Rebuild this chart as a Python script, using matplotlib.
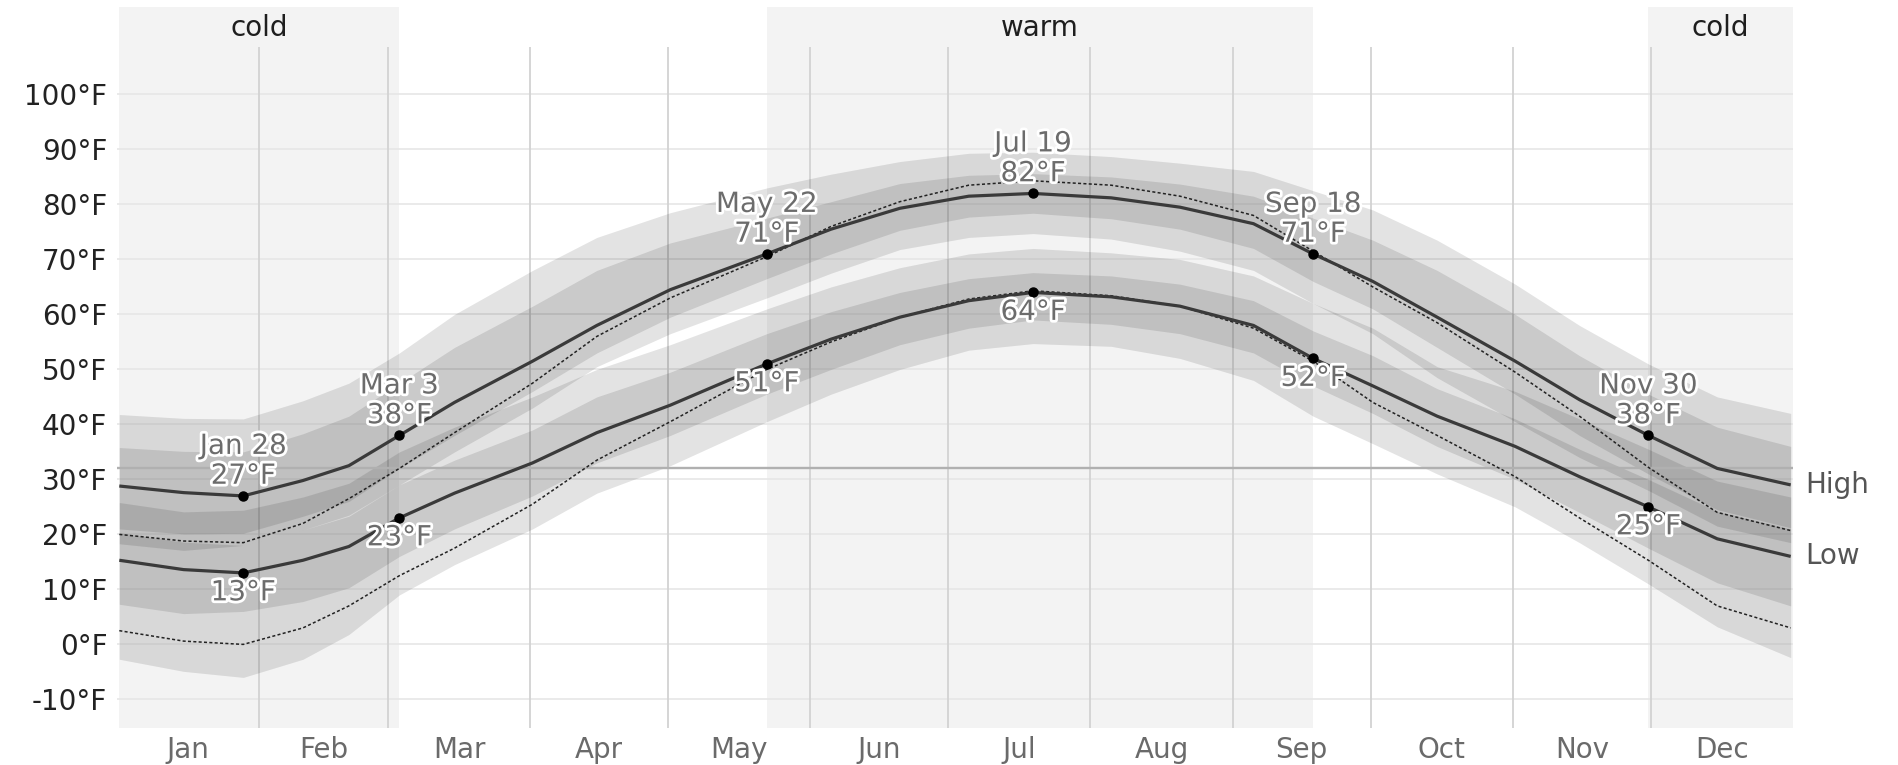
import numpy as np
import matplotlib
matplotlib.use('Agg')
import matplotlib.pyplot as plt
import matplotlib.patheffects as pe

plt.rcParams['font.family'] = ['DejaVu Sans']

# day of year of each reading
days = [1, 15, 28, 41, 51, 62, 74, 91, 105, 121, 142, 156, 171,
        186, 200, 217, 232, 248, 261, 274, 288, 305, 319, 334, 349, 365]

# average daily high / low (°F)
high = [28.8, 27.6, 27.0, 29.8, 32.5, 38.0, 44.0, 51.5, 58.0, 64.5, 71.0, 75.5, 79.3,
        81.5, 82.0, 81.2, 79.5, 76.5, 71.0, 66.0, 59.5, 51.5, 44.5, 38.0, 32.0, 29.0]
low = [15.3, 13.6, 13.0, 15.3, 17.8, 23.0, 27.5, 33.0, 38.5, 43.5, 51.0, 55.5, 59.5,
       62.5, 64.0, 63.2, 61.5, 58.0, 52.0, 47.0, 41.5, 36.0, 30.5, 25.0, 19.2, 16.0]

# perceived (feels like) high / low, dotted
feels_high = [20.0, 18.8, 18.5, 22.0, 26.5, 32.0, 38.5, 47.5, 56.0, 63.0, 70.5, 76.0, 80.5,
              83.5, 84.3, 83.5, 81.5, 78.0, 71.5, 65.0, 58.5, 49.5, 41.5, 32.2, 24.0, 20.7]
feels_low = [2.5, 0.6, 0.0, 3.0, 7.0, 12.5, 17.5, 25.5, 33.5, 40.5, 50.0, 55.0, 59.5,
             62.8, 64.3, 63.4, 61.5, 57.5, 51.5, 44.0, 38.0, 30.5, 23.0, 15.3, 7.0, 3.0]

# percentile bands of the daily high
high_p10 = [18.3, 17.1, 18.0, 20.8, 23.5, 29.0, 35.0, 43.0, 50.5, 56.5, 63.0, 67.5, 71.8,
            74.0, 74.7, 73.7, 71.5, 68.0, 62.0, 56.5, 48.5, 40.5, 34.0, 28.0, 21.5, 18.5]
high_p25 = [21.0, 20.1, 20.2, 23.3, 26.0, 32.0, 38.0, 46.0, 53.0, 59.5, 66.5, 71.0, 75.3,
            77.7, 78.4, 77.4, 75.5, 72.0, 66.0, 61.0, 54.0, 45.5, 38.0, 31.0, 24.5, 21.2]
high_p75 = [35.8, 35.1, 35.0, 38.3, 41.5, 47.5, 54.0, 61.5, 68.0, 73.0, 77.5, 80.5, 83.8,
            85.3, 85.6, 85.0, 83.7, 81.5, 77.5, 73.5, 68.0, 60.0, 52.5, 45.5, 39.5, 36.0]
high_p90 = [41.8, 41.1, 41.0, 44.3, 47.5, 53.0, 60.0, 68.0, 74.0, 78.5, 83.0, 85.5, 87.8,
            89.3, 89.5, 88.7, 87.5, 86.0, 82.5, 79.0, 73.5, 65.5, 58.0, 51.0, 45.0, 42.0]

# percentile bands of the daily low
low_p10 = [-2.7, -4.9, -6.0, -2.7, 1.8, 9.0, 14.5, 21.0, 27.5, 32.5, 40.5, 45.5, 50.0,
           53.5, 54.7, 54.2, 52.0, 48.0, 41.5, 36.5, 31.0, 25.0, 18.5, 11.0, 3.2, -2.4]
low_p25 = [7.3, 5.6, 6.0, 7.8, 10.3, 16.0, 21.0, 27.0, 33.0, 38.0, 45.5, 50.0, 54.5,
           57.5, 59.0, 58.2, 56.5, 53.0, 47.0, 42.0, 36.0, 30.0, 24.0, 17.5, 11.2, 7.0]
low_p75 = [20.3, 18.6, 18.0, 20.8, 23.3, 29.0, 33.5, 39.0, 45.0, 49.5, 56.5, 60.5, 64.0,
           66.5, 67.6, 67.0, 65.5, 62.5, 57.0, 52.5, 46.5, 41.0, 35.5, 30.0, 24.2, 21.0]
low_p90 = [25.8, 24.1, 24.4, 26.8, 29.3, 35.0, 39.5, 45.0, 50.0, 54.5, 61.0, 65.0, 68.5,
           71.0, 72.0, 71.2, 70.0, 67.0, 62.0, 57.5, 50.5, 46.0, 41.0, 35.5, 29.7, 26.8]

# marked days (index into days) and their labels
marked = [2, 5, 10, 14, 18, 23]
marked_names = ['Jan 28', 'Mar 3', 'May 22', 'Jul 19', 'Sep 18', 'Nov 30']

# seasons: (name, first day, last day)
seasons = [('cold', 1, 62), ('warm', 142, 261), ('cold', 334, 365)]

months = ['Jan', 'Feb', 'Mar', 'Apr', 'May', 'Jun',
          'Jul', 'Aug', 'Sep', 'Oct', 'Nov', 'Dec']
month_days = [31, 28, 31, 30, 31, 30, 31, 31, 30, 31, 30, 31]
yticks = list(range(-10, 101, 10))
freezing = 32

x = np.array(days) - 0.5
month_starts = np.concatenate([[0], np.cumsum(month_days)])
month_mids = (month_starts[:-1] + month_starts[1:]) / 2

fig = plt.figure(figsize=(18.99, 7.65), dpi=100)
ax = fig.add_axes([117 / 1899, 1 - 728 / 765, 1676 / 1899, 721 / 765])
ymin, ymax = -15.2, 115.9
ax.set_xlim(0, 365)
ax.set_ylim(ymin, ymax)

# season shading + labels
for name, d0, d1 in seasons:
    a = max(d0 - 0.5, 0)
    b = 365 if d1 == 365 else d1 - 0.5
    ax.axvspan(a, b, color='#f3f3f3', zorder=0, lw=0)
    ax.text((a + b) / 2, 112.0, name, ha='center', va='center',
            fontsize=20, color='#1e1e1e', zorder=6)

# grid
for v in yticks:
    ax.axhline(v, color='#e6e6e6', lw=1.2, zorder=1)
ax.vlines(month_starts[1:-1], ymin, 108.6, color='#d2d2d2', lw=1.3, zorder=1)

# percentile bands
band_kw = dict(color='black', alpha=0.11, lw=0, zorder=2)
ax.fill_between(x, high_p10, high_p90, **band_kw)
ax.fill_between(x, high_p25, high_p75, **band_kw)
ax.fill_between(x, low_p10, low_p90, **band_kw)
ax.fill_between(x, low_p25, low_p75, **band_kw)

ax.axhline(freezing, color='#b0b0b0', lw=1.7, zorder=3)

# lines
ax.plot(x, feels_high, color='#222222', lw=1.1, ls=(0, (2, 1.5)), zorder=4)
ax.plot(x, feels_low, color='#222222', lw=1.1, ls=(0, (2, 1.5)), zorder=4)
ax.plot(x, high, color='#3a3a3a', lw=2.3, zorder=4, solid_capstyle='butt')
ax.plot(x, low, color='#3a3a3a', lw=2.3, zorder=4, solid_capstyle='butt')

halo = [pe.withStroke(linewidth=4, foreground='white')]
lab_kw = dict(textcoords='offset points', ha='center', va='center',
              fontsize=20, color='#6c6c6c', path_effects=halo, zorder=6)
for i, name in zip(marked, marked_names):
    ax.plot(x[i], high[i], 'o', color='black', ms=6.5, zorder=5)
    ax.plot(x[i], low[i], 'o', color='black', ms=6.5, zorder=5)
    ax.annotate(name, (x[i], high[i]), xytext=(0, 36), **lab_kw)
    ax.annotate(f'{high[i]:.0f}°F', (x[i], high[i]), xytext=(0, 14.5), **lab_kw)
    ax.annotate(f'{low[i]:.0f}°F', (x[i], low[i]), xytext=(0, -14), **lab_kw)

ax.annotate('High', (365, high[-1]), xytext=(9, 0), textcoords='offset points',
            ha='left', va='center', fontsize=20, color='#555555',
            annotation_clip=False)
ax.annotate('Low', (365, low[-1]), xytext=(9, 0), textcoords='offset points',
            ha='left', va='center', fontsize=20, color='#555555',
            annotation_clip=False)

# axes / ticks
ax.set_yticks(yticks)
ax.set_yticklabels([f'{v}°F' for v in yticks], fontsize=20, color='#222222')
ax.set_xticks(month_mids)
ax.set_xticklabels(months, fontsize=20, color='#6a6a6a')
ax.tick_params(axis='both', length=0)
ax.tick_params(axis='y', pad=7)
ax.tick_params(axis='x', pad=6)
for s in ax.spines.values():
    s.set_visible(False)

fig.savefig('out.png', dpi=100, facecolor='white')
